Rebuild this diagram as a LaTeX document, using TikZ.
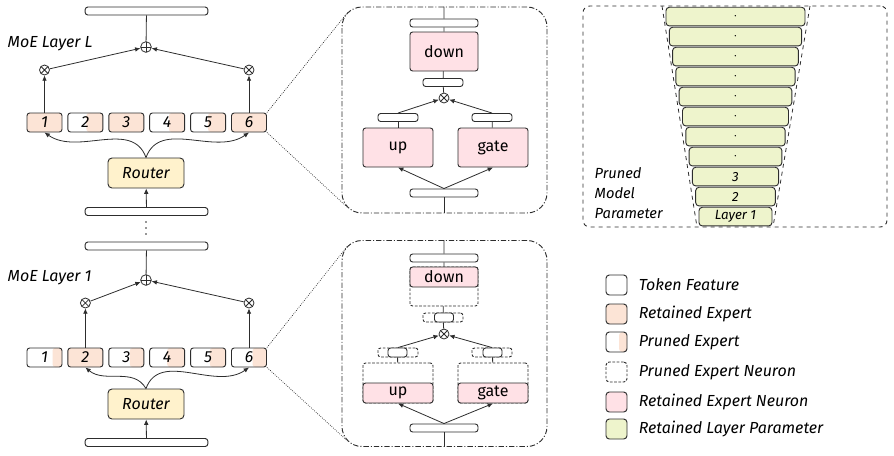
\documentclass[tikz,border=0pt]{standalone}
\usepackage{fontspec}
\setmainfont{Fira Sans}
\usetikzlibrary{positioning, arrows.meta, calc}
\definecolor{expfill}{RGB}{252,228,214}
\definecolor{neufill}{RGB}{255,225,230}
\definecolor{routfill}{RGB}{255,242,204}
\definecolor{layfill}{RGB}{238,244,204}
\definecolor{edge}{RGB}{45,45,45}

\tikzset{
  base/.style={draw=edge, line width=0.7pt, rounded corners=2pt, inner sep=0pt},
  feat/.style={base, fill=white, minimum width=#1, minimum height=6pt},
  feat/.default=92pt,
  expert/.style={base, fill=white, minimum width=26.25pt, minimum height=14.25pt, font=\itshape\large,
    path picture={\fill[expfill] ($(path picture bounding box.south east)!#1!(path picture bounding box.south west)$) rectangle (path picture bounding box.north east);}},
  router/.style={base, fill=routfill, minimum width=57pt, minimum height=22.5pt, rounded corners=3pt, font=\itshape\large},
  opmul/.style={circle, draw=edge, line width=0.6pt, fill=white, minimum size=7.5pt, inner sep=0pt,
    path picture={\draw[edge, line width=0.6pt] (path picture bounding box.north west) -- (path picture bounding box.south east)
      (path picture bounding box.north east) -- (path picture bounding box.south west);}},
  opadd/.style={circle, draw=edge, line width=0.6pt, fill=white, minimum size=8pt, inner sep=0pt,
    path picture={\draw[edge, line width=0.6pt] (path picture bounding box.north) -- (path picture bounding box.south)
      (path picture bounding box.east) -- (path picture bounding box.west);}},
  neuron/.style={base, fill=neufill, minimum width=#1, minimum height=29.25pt, font=\large},
  pruned/.style={base, dash pattern=on 2pt off 1.2pt, fill=white, minimum width=#1},
  zoombox/.style={draw=edge, line width=0.7pt, rounded corners=15pt, dash pattern=on 4pt off 1.5pt on 0.8pt off 1.5pt,
    minimum width=153.75pt, minimum height=154.5pt},
  layerbar/.style={base, fill=layfill, minimum height=14pt, rounded corners=2.5pt, font=\itshape},
  swatch/.style={base, rounded corners=2.5pt, minimum width=15.75pt, minimum height=15pt},
  link/.style={draw=edge, line width=0.6pt},
  arr/.style={link, -{Latex[length=4pt, width=3.5pt]}},
  lbl/.style={font=\itshape\large, anchor=west},
}

\begin{document}
\begin{tikzpicture}[x=0.75pt, y=-0.75pt]
  \useasboundingbox (0,0) rectangle (894,455);

  % ---- MoE layer L ----
  \node[feat] (topL) at (146.5,11) {};
  \node[opadd] (addL) at (146,47) {};
  \node[lbl] (nameL) at (3,44) {MoE Layer L};
  \foreach \i/\f in {1/1, 2/0.47, 3/1, 4/0.45, 5/0.5, 6/1}
    \node[expert=\f] (eL\i) at ({44.5+40.9*(\i-1)},122.5) {\i};
  \node[opmul] (mL1) at (eL1 |- 0,70) {};
  \node[opmul] (mL6) at (eL6 |- 0,70) {};
  \node[router] (routL) at (146,173) {Router};
  \node[feat] (botL) at (146.5,211.5) {};
  \draw[link] (addL) -- (topL);
  \draw[arr] (mL1) -- (addL);
  \draw[arr] (mL6) -- (addL);
  \draw[arr] (eL1) -- (mL1);
  \draw[arr] (eL6) -- (mL6);
  \draw[arr] (routL.north) to[out=110, in=-35] (eL1.south);
  \draw[arr] (routL.north) to[out=70, in=-145] (eL6.south);
  \draw[arr] (botL) -- (routL);

  % dots between the layers
  \foreach \y in {222,228,234}
    \fill[edge] (146,\y) circle (0.9);

  % ---- MoE layer 1 ----
  \node[feat] (topA) at (146.5,246) {};
  \node[opadd] (addA) at (146,280) {};
  \node[lbl] (nameA) at (3,278) {MoE Layer 1};
  \foreach \i/\f in {1/0.27, 2/1, 3/0.4, 4/0.5, 5/0.45, 6/0.4}
    \node[expert=\f] (eA\i) at ({44.5+40.9*(\i-1)},357.5) {\i};
  \node[opmul] (mA2) at (eA2 |- 0,303) {};
  \node[opmul] (mA6) at (eA6 |- 0,303) {};
  \node[router] (routA) at (146,404) {Router};
  \node[feat] (botA) at (146.5,442.5) {};
  \draw[link] (addA) -- (topA);
  \draw[arr] (mA2) -- (addA);
  \draw[arr] (mA6) -- (addA);
  \draw[arr] (eA2) -- (mA2);
  \draw[arr] (eA6) -- (mA6);
  \draw[arr] (routA.north) to[out=120, in=-40] (eA2.south);
  \draw[arr] (routA.north) to[out=70, in=-145] (eA6.south);
  \draw[arr] (botA) -- (routA);

  % ---- zoom of expert 6, layer L ----
  \node[zoombox] (zoomL) at (444.5,110) {};
  \node[feat=51pt] (zLtop) at (444,23) {};
  \node[neuron=51pt] (zLdown) at (444,51.5) {down};
  \node[feat=30pt] (zLmid) at (443,82.5) {};
  \node[opmul] (zLmul) at (444,98) {};
  \node[feat=30pt] (zLbarU) at (398,117.5) {};
  \node[feat=30pt] (zLbarG) at (492,117.5) {};
  \node[neuron=52.5pt] (zLup) at (398,147.5) {up};
  \node[neuron=52.5pt] (zLgate) at (493,147.5) {gate};
  \node[feat=51pt] (zLbot) at (444,193) {};
  \draw[link] (zoomL.north -| zLtop) -- (zLtop) -- (zLdown) -- (zLmid) -- (zLmul);
  \draw[arr] (zLbarU.north) -- (zLmul);
  \draw[arr] (zLbarG.north) -- (zLmul);
  \draw[link] (zLbarU) -- (zLup);
  \draw[link] (zLbarG) -- (zLgate);
  \draw[arr] (zLbot.north) -- (zLup.south);
  \draw[arr] (zLbot.north) -- (zLgate.south);
  \draw[link] (zLbot) -- (zoomL.south -| zLbot);
  \coordinate (zLnw) at ($(zoomL.north west)+(6,6)$);
  \coordinate (zLsw) at ($(zoomL.south west)+(6,-6)$);
  \draw[link, densely dotted, line width=0.5pt] (eL6.north east) -- (zLnw);
  \draw[link, densely dotted, line width=0.5pt] (eL6.south east) -- (zLsw);

  % ---- zoom of expert 6, layer 1 ----
  \node[zoombox] (zoomA) at (444.5,343.5) {};
  \node[feat=51pt] (zAtop) at (444,258) {};
  \node[pruned=51pt, minimum height=29.25pt] (zAdownP) at (444,286.5) {};
  \node[base, fill=neufill, minimum width=51pt, minimum height=15pt, anchor=north, font=\large] (zAdown) at (zAdownP.north) {down};
  \node[pruned=30pt, minimum height=6.75pt] (zAmidP) at (443,317.5) {};
  \node[feat=14.25pt, minimum height=6.75pt] (zAmid) at (444,317.5) {};
  \node[opmul] (zAmul) at (444,334) {};
  \node[pruned=30pt, minimum height=6.75pt] (zAbarUP) at (398,352.5) {};
  \node[feat=14.25pt, minimum height=6.75pt] (zAbarU) at (397.5,352.5) {};
  \node[pruned=30pt, minimum height=6.75pt] (zAbarGP) at (492,352.5) {};
  \node[feat=14.25pt, minimum height=6.75pt] (zAbarG) at (492.5,352.5) {};
  \node[pruned=52.5pt, minimum height=30pt] (zAupP) at (398,383) {};
  \node[base, fill=neufill, minimum width=52.5pt, minimum height=15pt, anchor=south, font=\large] (zAup) at (zAupP.south) {up};
  \node[pruned=52.5pt, minimum height=30pt] (zAgateP) at (493,383) {};
  \node[base, fill=neufill, minimum width=52.5pt, minimum height=15pt, anchor=south, font=\large] (zAgate) at (zAgateP.south) {gate};
  \node[feat=51pt] (zAbot) at (444,428) {};
  \draw[link] (zoomA.north -| zAtop) -- (zAtop) -- (zAdownP) -- (zAmidP) -- (zAmul);
  \draw[arr] (zAbarUP.north) -- (zAmul);
  \draw[arr] (zAbarGP.north) -- (zAmul);
  \draw[link] (zAbarU) -- (zAupP);
  \draw[link] (zAbarG) -- (zAgateP);
  \draw[arr] (zAbot.north) -- (zAup.south);
  \draw[arr] (zAbot.north) -- (zAgate.south);
  \draw[link] (zAbot) -- (zoomA.south -| zAbot);
  \coordinate (zAnw) at ($(zoomA.north west)+(6,6)$);
  \coordinate (zAsw) at ($(zoomA.south west)+(6,-6)$);
  \draw[link, densely dotted, line width=0.5pt] (eA6.north east) -- (zAnw);
  \draw[link, densely dotted, line width=0.5pt] (eA6.south east) -- (zAsw);

  % ---- pruned model parameter ----
  \node[draw=edge, line width=0.7pt, dashed, rounded corners=5pt, minimum width=228pt, minimum height=165.75pt] (panel) at (735,116.5) {};
  \coordinate (trTL) at (662,6);
  \coordinate (trBL) at (697,227);
  \coordinate (trTR) at (810,6);
  \coordinate (trBR) at (773,227);
  \draw[link, dashed] (trTL) -- (trBL);
  \draw[link, dashed] (trTR) -- (trBR);
  \foreach \i/\lab in {0/{$\cdot$}, 1/{$\cdot$}, 2/{$\cdot$}, 3/{$\cdot$}, 4/{$\cdot$}, 5/{$\cdot$}, 6/{$\cdot$}, 7/{$\cdot$}, 8/3, 9/2, 10/Layer 1}
    \node[layerbar, minimum width={104.25pt-4.95pt*\i}] (lay\i) at (735.5,{16.6+20*\i}) {\lab};
  \node[lbl, align=left, font=\itshape\fontsize{11}{15}\selectfont] (prunedtxt) at (590,193) {Pruned\\Model\\Parameter};

  % ---- legend ----
  \node[swatch, fill=white] (lg1) at (616.5,285) {};
  \node[swatch, fill=expfill] (lg2) at (616.5,314) {};
  \node[swatch, fill=white, path picture={\fill[expfill] ($(path picture bounding box.south east)!0.38!(path picture bounding box.south west)$) rectangle (path picture bounding box.north east);}] (lg3) at (616.5,342) {};
  \node[swatch, fill=white, dash pattern=on 2pt off 1.2pt] (lg4) at (616.5,372) {};
  \node[swatch, fill=neufill] (lg5) at (616.5,402) {};
  \node[swatch, fill=layfill] (lg6) at (616.5,429) {};
  \node[lbl, right=5pt of lg1] {Token Feature};
  \node[lbl, right=5pt of lg2] {Retained Expert};
  \node[lbl, right=5pt of lg3] {Pruned Expert};
  \node[lbl, right=5pt of lg4] {Pruned Expert Neuron};
  \node[lbl, right=5pt of lg5] {Retained Expert Neuron};
  \node[lbl, right=5pt of lg6] {Retained Layer Parameter};
\end{tikzpicture}
\end{document}
